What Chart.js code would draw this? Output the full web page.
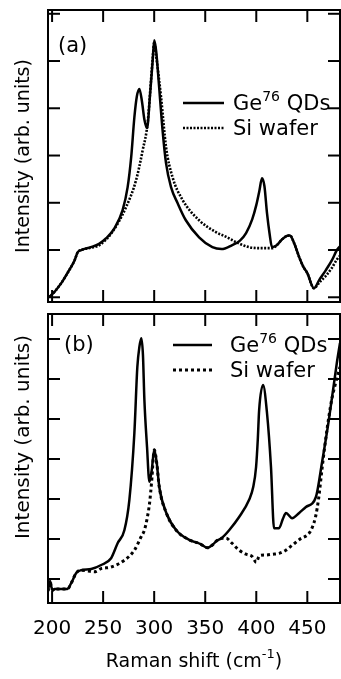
<!DOCTYPE html>
<html>
<head>
<meta charset="utf-8">
<script src="https://cdn.jsdelivr.net/npm/chart.js@4.4.1/dist/chart.umd.min.js"></script>
<style>
  body { margin: 0; background: #fff; }
  #wrap { position: relative; width: 341px; height: 679px; }
  canvas { position: absolute; left: 0; }
</style>
</head>
<body>
<div id="wrap">
  <canvas id="chartA" width="341" height="306" style="top:0"></canvas>
  <canvas id="chartB" width="341" height="373" style="top:306px"></canvas>
</div>
<script>
// Raman shift axis (cm-1)
const xTicks = [200, 250, 300, 350, 400, 450];
const yTicks = [0, 1, 2, 3, 4, 5, 6];

// panel (a)
const geAX = [196, 199, 209, 215, 222, 225, 228.5, 238, 246, 253, 261, 269, 274, 277.5, 280.6, 283, 285.5, 288, 290.5, 293, 296, 298.5, 300.1, 302, 304.3, 308.2, 311.6, 316.5, 323, 331, 344, 357, 366, 376, 384, 390, 396, 400, 403, 405.6, 408, 410.5, 413, 415.4, 420, 425, 430, 433, 437, 442, 446, 450, 456.5, 462, 468, 474, 479, 482];
const geAY = [0.0, 0.04, 0.30, 0.51, 0.78, 0.95, 1.0, 1.06, 1.13, 1.25, 1.46, 1.84, 2.33, 2.97, 3.81, 4.25, 4.41, 4.15, 3.75, 3.58, 4.3, 5.0, 5.44, 5.2, 4.6, 3.54, 2.84, 2.33, 1.99, 1.63, 1.27, 1.06, 1.02, 1.1, 1.2, 1.36, 1.65, 1.95, 2.25, 2.52, 2.35, 1.78, 1.35, 1.06, 1.1, 1.22, 1.3, 1.31, 1.15, 0.85, 0.65, 0.51, 0.19, 0.38, 0.57, 0.78, 1.0, 1.08];
const siAX = [196, 199, 209, 215, 222, 225, 228.5, 238, 246, 259, 272.5, 282.3, 288.7, 293.6, 296.9, 298.5, 300.1, 302, 306.7, 311.6, 318, 327.8, 344, 360.4, 371.5, 380, 393, 405.6, 415.4, 420, 425, 430, 433, 437, 442, 446, 450, 456.5, 462, 468, 474, 479, 482];
const siAY = [0.0, 0.04, 0.30, 0.51, 0.78, 0.95, 1.0, 1.05, 1.1, 1.38, 1.91, 2.48, 3.11, 3.69, 4.6, 5.05, 5.4, 5.1, 4.24, 3.18, 2.54, 2.06, 1.63, 1.38, 1.27, 1.17, 1.06, 1.04, 1.04, 1.1, 1.22, 1.3, 1.31, 1.15, 0.85, 0.65, 0.51, 0.19, 0.32, 0.45, 0.62, 0.8, 0.88];

// panel (b)
const geBX = [196, 198, 199.2, 200.8, 202.4, 208, 215, 218.8, 223.6, 228.5, 238.3, 248.1, 257.8, 264.3, 270.8, 275.7, 280.6, 283.5, 285.5, 287.4, 289, 290.4, 293, 295.3, 297.5, 300.1, 302.5, 305, 311.9, 321.6, 334.3, 345, 352, 357, 361, 366, 373.4, 383.2, 393, 397, 399.8, 401.5, 402.8, 406.6, 410.5, 414.4, 417.4, 422.3, 426, 429.1, 435, 442, 448.6, 458.4, 464.3, 471.1, 478.9, 482];
const geBY = [-0.3, -0.05, -0.19, -0.28, -0.25, -0.25, -0.25, -0.1, 0.15, 0.22, 0.25, 0.35, 0.52, 0.9, 1.22, 1.98, 3.65, 5.3, 5.8, 6.02, 5.6, 4.48, 3.3, 2.43, 2.7, 3.23, 2.9, 2.3, 1.65, 1.22, 0.98, 0.88, 0.78, 0.85, 0.95, 1.02, 1.22, 1.55, 1.98, 2.3, 2.8, 3.5, 4.22, 4.85, 4.15, 2.8, 1.27, 1.27, 1.5, 1.65, 1.52, 1.65, 1.8, 2.05, 2.9, 3.98, 5.4, 5.9];
const siBX = [196, 198, 199.2, 200.8, 202.4, 208, 215, 218.8, 223.6, 228.5, 235, 241.5, 248, 257.8, 270.8, 280.6, 287.1, 290.4, 293, 295.5, 297.5, 300.1, 302.5, 305, 311.9, 321.6, 334.3, 345, 352, 357, 361, 366, 370.5, 376, 383.2, 390, 396, 400, 403, 409.6, 416, 422.3, 429, 435, 443, 451.6, 455, 458.1, 461, 464.6, 468, 471.1, 474, 477.7, 482];
const siBY = [-0.3, -0.05, -0.19, -0.28, -0.25, -0.25, -0.25, -0.1, 0.15, 0.22, 0.2, 0.18, 0.26, 0.3, 0.47, 0.72, 1.05, 1.22, 1.5, 1.9, 2.43, 3.23, 2.9, 2.3, 1.65, 1.22, 0.98, 0.88, 0.78, 0.85, 0.95, 1.02, 1.02, 0.9, 0.72, 0.62, 0.56, 0.42, 0.58, 0.6, 0.62, 0.64, 0.72, 0.84, 1.0, 1.14, 1.3, 1.56, 2.0, 2.8, 3.5, 4.06, 4.5, 4.9, 5.3];

const FONT = '"DejaVu Sans", Verdana, sans-serif';
const TICK = 12;

const zip = (xs, ys) => xs.map((x, i) => ({ x: x, y: ys[i] }));

function line(ctx, x1, y1, x2, y2) {
    ctx.beginPath();
    ctx.moveTo(x1, y1);
    ctx.lineTo(x2, y2);
    ctx.stroke();
}

// text with a raised part: parts = [[text, isSup], ...]
function supText(ctx, parts, x, y, size, align) {
    const widths = parts.map(p => {
        ctx.font = `${p[1] ? Math.round(size * 0.68) : size}px ${FONT}`;
        return ctx.measureText(p[0]).width;
    });
    const total = widths.reduce((a, b) => a + b, 0);
    let cx = align === 'center' ? x - total / 2 : x;
    ctx.textAlign = 'left';
    parts.forEach((p, i) => {
        ctx.font = `${p[1] ? Math.round(size * 0.68) : size}px ${FONT}`;
        ctx.fillText(p[0], cx, p[1] ? y - size * 0.45 : y);
        cx += widths[i];
    });
}

const panelFrame = {
    id: 'panelFrame',
    afterDatasetsDraw(chart, args, opts) {
        const { ctx, chartArea: area } = chart;
        const xs = chart.scales.x, ys = chart.scales.y;
        ctx.save();
        ctx.strokeStyle = '#000';
        ctx.fillStyle = '#000';
        ctx.lineWidth = 2;
        ctx.setLineDash([]);
        ctx.strokeRect(area.left, area.top, area.right - area.left, area.bottom - area.top);

        // inward ticks on all four sides
        xTicks.forEach(v => {
            const px = xs.getPixelForValue(v);
            line(ctx, px, area.bottom, px, area.bottom - TICK);
            line(ctx, px, area.top, px, area.top + TICK);
        });
        yTicks.forEach(v => {
            const py = ys.getPixelForValue(v);
            line(ctx, area.left, py, area.left + TICK, py);
            line(ctx, area.right, py, area.right - TICK, py);
        });

        ctx.textBaseline = 'alphabetic';
        ctx.font = `21px ${FONT}`;
        ctx.textAlign = 'left';
        ctx.fillText(opts.tag, opts.tagX, opts.tagY);

        // legend
        chart.data.datasets.forEach((ds, i) => {
            const ly = opts.legendY + i * opts.legendGap;
            ctx.save();
            ctx.lineWidth = ds.borderWidth;
            ctx.setLineDash(ds.borderDash || []);
            line(ctx, opts.legendX, ly, opts.legendX + opts.legendLen, ly);
            ctx.restore();
            supText(ctx, ds.legendParts, opts.legendTextX, ly + 7, 21, 'left');
        });

        // y title
        ctx.save();
        ctx.translate(opts.titleX, opts.titleY);
        ctx.rotate(-Math.PI / 2);
        ctx.font = `${opts.titleSize}px ${FONT}`;
        ctx.textAlign = 'center';
        ctx.textBaseline = 'middle';
        ctx.fillText('Intensity (arb. units)', 0, 0);
        ctx.restore();

        if (opts.xLabels) {
            ctx.font = `20px ${FONT}`;
            ctx.textAlign = 'center';
            ctx.textBaseline = 'middle';
            xTicks.forEach(v => ctx.fillText(String(v), xs.getPixelForValue(v), area.bottom + 26));
            ctx.textBaseline = 'alphabetic';
            supText(ctx, [['Raman shift (cm', false], ['-1', true], [')', false]],
                (area.left + area.right) / 2, area.bottom + 64, 19, 'center');
        }
        ctx.restore();
    }
};

function makePanel(id, ge, si, yMin, yMax, padding, siDash, siWidth, frame) {
    return new Chart(document.getElementById(id), {
        type: 'line',
        data: {
            datasets: [
                {
                    label: 'Ge76 QDs',
                    legendParts: [['Ge', false], ['76', true], [' QDs', false]],
                    data: ge,
                    borderColor: '#000',
                    borderWidth: 2.5,
                    pointRadius: 0,
                    cubicInterpolationMode: 'monotone'
                },
                {
                    label: 'Si wafer',
                    legendParts: [['Si wafer', false]],
                    data: si,
                    borderColor: '#000',
                    borderWidth: siWidth,
                    borderDash: siDash,
                    pointRadius: 0,
                    cubicInterpolationMode: 'monotone'
                }
            ]
        },
        options: {
            responsive: false,
            animation: false,
            layout: { padding: padding },
            plugins: {
                legend: { display: false },
                tooltip: { enabled: false },
                panelFrame: frame
            },
            scales: {
                x: { type: 'linear', min: 196, max: 482, display: false },
                y: { type: 'linear', min: yMin, max: yMax, display: false }
            }
        },
        plugins: [panelFrame]
    });
}

makePanel('chartA', zip(geAX, geAY), zip(siAX, siAY), -0.1, 6.08,
    { left: 48, right: 1, top: 10, bottom: 4 }, [2, 1.5], 2.6,
    { tag: '(a)', tagX: 58, tagY: 52, legendX: 183, legendLen: 41, legendTextX: 233,
      legendY: 103, legendGap: 25, titleX: 24, titleY: 156, titleSize: 19, xLabels: false });

makePanel('chartB', zip(geBX, geBY), zip(siBX, siBY), -0.6, 6.625,
    { left: 48, right: 1, top: 8, bottom: 76 }, [3, 3], 3,
    { tag: '(b)', tagX: 64, tagY: 45, legendX: 173, legendLen: 39, legendTextX: 230,
      legendY: 39, legendGap: 25, titleX: 24, titleY: 131, titleSize: 20, xLabels: true });
</script>
</body>
</html>
